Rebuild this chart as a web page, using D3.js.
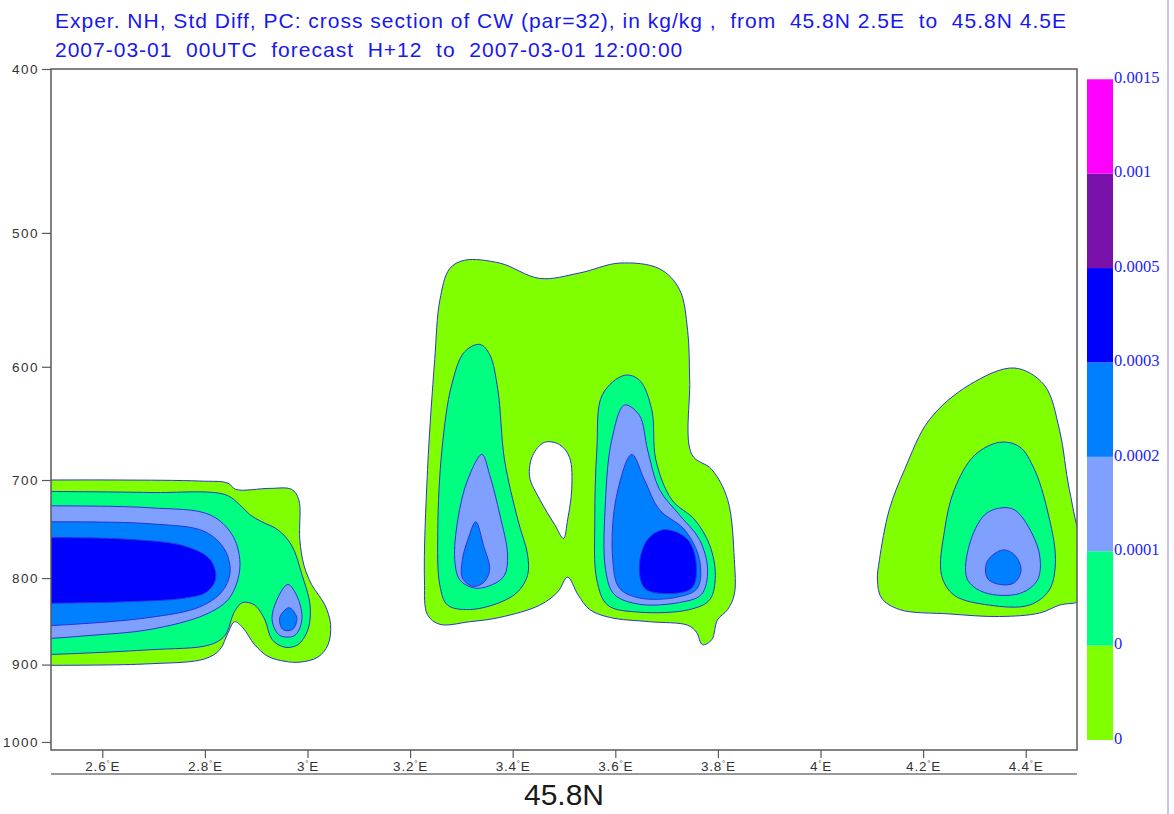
<!DOCTYPE html>
<html><head><meta charset="utf-8">
<script src="https://cdn.jsdelivr.net/npm/d3@7"></script>
<style>
html,body{margin:0;padding:0;background:#fff;}
svg{display:block;}
.keep{white-space:pre;}
</style></head>
<body>
<svg id="chart" width="1174" height="814"></svg>
<script>
// ---- text ----
const titleLines = [
  "Exper. NH, Std Diff, PC: cross section of CW (par=32), in kg/kg ,  from  45.8N 2.5E  to  45.8N 4.5E",
  "2007-03-01  00UTC  forecast  H+12  to  2007-03-01 12:00:00"
];
const sectionLabel = "45.8N";

// ---- axes ----
const lonDomain = [2.5, 4.5];
const pressureDomain = [400, 1011];
const pressureTicks = [400, 500, 600, 700, 800, 900, 1000];
const lonTicks = [2.6, 2.8, 3.0, 3.2, 3.4, 3.6, 3.8, 4.0, 4.2, 4.4];

// ---- colour bands (kg/kg) ----
const bandLabels = ["0", "0", "0.0001", "0.0002", "0.0003", "0.0005", "0.001", "0.0015"];
const bandColors = ["#80ff00", "#00ff80", "#80a0ff", "#0080ff", "#0000ff", "#7a10aa", "#ff00ff"];

// ---- contour outlines: [lon (°E), pressure (hPa)] ----
// western cell (runs off the 2.5E edge)
const westBand0 = [[2.42,700],[2.479,700],[2.634,700],[2.790,701],[2.845,703],[2.860,709],[2.927,708],[2.969,709],[2.983,719],[2.985,759],[2.993,786],[3.008,807],[3.034,830],[3.045,852],[3.040,876],[3.020,891],[2.985,897],[2.956,896],[2.923,890],[2.897,876],[2.874,856],[2.858,849],[2.845,862],[2.829,882],[2.800,893],[2.693,899],[2.479,901],[2.42,901]];
const westBand1 = [[2.42,711],[2.479,711],[2.693,712],[2.839,714],[2.868,724],[2.888,734],[2.911,741],[2.942,749],[2.969,765],[2.989,796],[3.005,830],[3.001,858],[2.981,876],[2.956,879],[2.931,870],[2.917,847],[2.897,830],[2.874,827],[2.858,837],[2.839,865],[2.810,876],[2.693,882],[2.479,888],[2.42,888]];
const westBand2 = [[2.42,725],[2.479,725],[2.693,727],[2.810,734],[2.853,754],[2.868,780],[2.864,802],[2.845,824],[2.800,841],[2.693,858],[2.576,865],[2.479,869],[2.42,869]];
const westBand2b = [[2.962,807],[2.981,822],[2.989,847],[2.975,865],[2.946,865],[2.931,847],[2.942,822]];
const westBand3 = [[2.42,741],[2.479,741],[2.693,743],[2.800,751],[2.839,770],[2.849,794],[2.833,815],[2.790,832],[2.693,844],[2.479,854],[2.42,854]];
const westBand3b = [[2.964,833],[2.979,844],[2.971,858],[2.952,858],[2.946,844]];
const westBand4 = [[2.42,757],[2.479,757],[2.654,759],[2.761,766],[2.810,780],[2.821,800],[2.804,815],[2.761,822],[2.654,826],[2.479,828],[2.42,828]];

// central cell (3.2E - 3.85E)
const midBand0 = [[3.248,594],[3.258,548],[3.277,525],[3.306,519],[3.375,521],[3.453,532],[3.531,528],[3.608,521],[3.686,525],[3.725,540],[3.741,571],[3.745,611],[3.749,676],[3.788,690],[3.819,719],[3.832,780],[3.832,818],[3.819,835],[3.799,847],[3.788,870],[3.770,876],[3.758,861],[3.741,853],[3.667,849],[3.589,844],[3.550,835],[3.527,818],[3.507,799],[3.488,815],[3.453,830],[3.375,844],[3.316,849],[3.258,852],[3.234,841],[3.228,802],[3.234,690]];
const midGap = [[3.462,665],[3.491,667],[3.511,679],[3.515,709],[3.507,739],[3.499,758],[3.482,744],[3.453,719],[3.433,697],[3.439,677]];
const midWestBand1 = [[3.336,582],[3.355,590],[3.371,619],[3.384,681],[3.410,739],[3.429,775],[3.429,797],[3.410,815],[3.375,827],[3.316,835],[3.273,830],[3.258,808],[3.254,749],[3.262,672],[3.281,615],[3.306,588]];
const midWestBand2 = [[3.340,676],[3.355,695],[3.375,734],[3.390,775],[3.384,797],[3.361,807],[3.326,811],[3.297,802],[3.287,780],[3.293,739],[3.312,700]];
const midWestBand3 = [[3.328,741],[3.343,765],[3.355,791],[3.343,805],[3.322,809],[3.302,800],[3.302,780],[3.314,757]];
const midEastBand1 = [[3.618,607],[3.647,611],[3.671,636],[3.679,681],[3.710,719],[3.755,739],[3.784,765],[3.795,797],[3.784,824],[3.745,835],[3.647,838],[3.585,830],[3.564,802],[3.560,739],[3.564,672],[3.575,623]];
const midEastBand2 = [[3.618,632],[3.647,641],[3.663,672],[3.686,709],[3.725,734],[3.764,759],[3.780,791],[3.768,818],[3.725,827],[3.647,829],[3.598,818],[3.581,791],[3.581,719],[3.593,663]];
const midEastBand3 = [[3.632,676],[3.657,700],[3.686,729],[3.735,749],[3.764,780],[3.760,811],[3.721,821],[3.647,822],[3.608,811],[3.595,780],[3.601,719]];
const midEastBand4 = [[3.696,749],[3.741,759],[3.758,786],[3.749,811],[3.696,817],[3.657,811],[3.647,786],[3.663,759]];

// eastern cell (runs off the 4.5E edge)
const eastBand0 = [[4.111,802],[4.115,780],[4.134,729],[4.164,690],[4.212,645],[4.290,615],[4.378,601],[4.436,615],[4.466,654],[4.485,709],[4.514,765],[4.56,790],[4.514,824],[4.466,830],[4.427,839],[4.349,843],[4.251,840],[4.154,835],[4.119,822]];
const eastBand1 = [[4.349,665],[4.300,677],[4.261,709],[4.242,749],[4.236,797],[4.261,819],[4.329,830],[4.407,830],[4.446,813],[4.458,780],[4.442,729],[4.417,690],[4.388,669]];
const eastBand2 = [[4.353,727],[4.320,734],[4.290,765],[4.286,801],[4.320,816],[4.388,817],[4.423,802],[4.427,775],[4.403,744],[4.378,729]];
const eastBand3 = [[4.355,770],[4.378,775],[4.391,791],[4.378,805],[4.349,807],[4.325,800],[4.325,782]];

// drawing order: band index (-1 = below lowest level)
const contourLayers = [
  [0, westBand0], [1, westBand1], [2, westBand2], [2, westBand2b], [3, westBand3], [3, westBand3b], [4, westBand4],
  [0, midBand0], [-1, midGap], [1, midWestBand1], [2, midWestBand2], [3, midWestBand3],
  [1, midEastBand1], [2, midEastBand2], [3, midEastBand3], [4, midEastBand4],
  [0, eastBand0], [1, eastBand1], [2, eastBand2], [3, eastBand3]
];

// ---- layout ----
const svg = d3.select("#chart");
const plot = {left: 51, right: 1077, top: 69, bottom: 750};
const x = d3.scaleLinear().domain(lonDomain).range([plot.left, plot.right]);
const y = d3.scaleLog().domain(pressureDomain).range([plot.top, plot.bottom]);

// window edge line on the far right
svg.append("line").attr("x1", 1168).attr("x2", 1168).attr("y1", 0).attr("y2", 814)
  .attr("stroke", "#c2c2ff").attr("stroke-width", 2);

// titles
svg.append("g").selectAll("text").data(titleLines).join("text")
  .attr("class", "keep")
  .attr("x", 55).attr("y", (d, i) => 28 + i * 28.5)
  .attr("font-family", "'Liberation Sans', Arial, sans-serif")
  .attr("font-size", 21)
  .attr("letter-spacing", "1.0px")
  .attr("fill", "#1717ee")
  .text(d => d);

// contours
svg.append("defs").append("clipPath").attr("id", "plotClip")
  .append("rect").attr("x", plot.left).attr("y", plot.top)
  .attr("width", plot.right - plot.left).attr("height", plot.bottom - plot.top);

const outline = d3.line()
  .x(d => x(d[0])).y(d => y(d[1]))
  .curve(d3.curveCatmullRomClosed.alpha(0.5));

svg.append("g").attr("clip-path", "url(#plotClip)")
  .selectAll("path").data(contourLayers).join("path")
  .attr("d", d => outline(d[1]))
  .attr("fill", d => d[0] < 0 ? "#ffffff" : bandColors[d[0]])
  .attr("stroke", "#3030d8").attr("stroke-width", 1);

// frame
svg.append("rect").attr("x", plot.left).attr("y", plot.top)
  .attr("width", plot.right - plot.left).attr("height", plot.bottom - plot.top)
  .attr("fill", "none").attr("stroke", "#5a5a5a").attr("stroke-width", 1.5);

// pressure axis
const yAxis = svg.append("g").attr("transform", `translate(${plot.left},0)`)
  .call(d3.axisLeft(y).tickValues(pressureTicks).tickFormat(d3.format("d")).tickSize(9).tickPadding(3));
yAxis.select(".domain").remove();
yAxis.selectAll("line").attr("stroke", "#5a5a5a").attr("stroke-width", 1.2);
yAxis.selectAll("text").attr("font-family", "'Liberation Sans', Arial, sans-serif")
  .attr("font-size", 13.5).attr("letter-spacing", "1.5px").attr("fill", "#333");

// longitude axis
const xAxis = svg.append("g").attr("transform", `translate(0,${plot.bottom})`)
  .call(d3.axisBottom(x).tickValues(lonTicks).tickSize(8).tickFormat(""));
xAxis.select(".domain").remove();
xAxis.selectAll("line").attr("stroke", "#5a5a5a").attr("stroke-width", 1.2);
const lonLab = xAxis.selectAll("g.tick").append("text")
  .attr("y", 21).attr("text-anchor", "middle")
  .attr("font-family", "'Liberation Sans', Arial, sans-serif")
  .attr("font-size", 13.5).attr("letter-spacing", "0.8px").attr("fill", "#333");
lonLab.append("tspan").text(d => d3.format("~g")(d));
lonLab.append("tspan").attr("font-size", 8).attr("dy", -5).text("°");
lonLab.append("tspan").attr("dy", 5).text("E");

svg.append("line").attr("x1", plot.left).attr("x2", plot.right)
  .attr("y1", 774).attr("y2", 774).attr("stroke", "#777").attr("stroke-width", 1.5);

svg.append("text").attr("x", (plot.left + plot.right) / 2).attr("y", 805)
  .attr("text-anchor", "middle")
  .attr("font-family", "'Liberation Sans', Arial, sans-serif")
  .attr("font-size", 30).attr("fill", "#1a1a1a")
  .text(sectionLabel);

// colour bar
const cb = d3.scaleLinear().domain([0, bandColors.length]).range([740, 79.3]);
const cbar = svg.append("g");
cbar.selectAll("rect").data(bandColors).join("rect")
  .attr("x", 1087).attr("width", 26)
  .attr("y", (d, i) => cb(i + 1)).attr("height", (d, i) => cb(i) - cb(i + 1))
  .attr("fill", d => d);
cbar.selectAll("text").data(bandLabels).join("text")
  .attr("x", 1114).attr("y", (d, i) => cb(i))
  .attr("dominant-baseline", "middle")
  .attr("font-family", "'Liberation Serif', 'Times New Roman', serif")
  .attr("font-size", 16.5).attr("fill", "#2222ff")
  .text(d => d);
</script>
</body></html>
